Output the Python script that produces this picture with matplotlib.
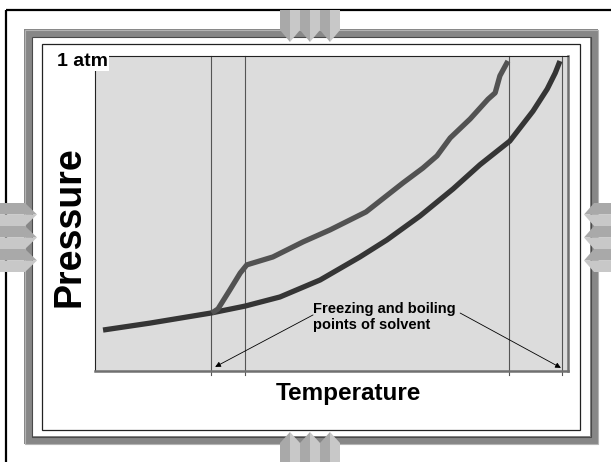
import matplotlib
matplotlib.use("Agg")
import matplotlib.pyplot as plt
from matplotlib.patches import Rectangle, Polygon

plt.rcParams['font.family'] = ['Liberation Sans', 'DejaVu Sans']

# solvent curve (lower) and solution curve (upper), arbitrary units 0-100
solvent_T = [1.7, 11.6, 24.5, 31.7, 39.1, 47.6, 56.0, 61.7, 68.7, 75.7, 81.4, 87.7, 92.6, 95.6, 97.3, 98.3]
solvent_P = [13.0, 15.2, 18.4, 20.6, 23.5, 28.9, 36.2, 41.6, 49.2, 57.8, 65.5, 73.0, 82.5, 89.5, 94.6, 98.4]
solution_T = [24.7, 26.0, 28.5, 30.7, 32.1, 37.6, 44.0, 49.7, 57.3, 65.1, 69.3, 72.3, 75.1, 79.3, 83.1, 84.6, 85.6, 87.3]
solution_P = [18.4, 19.7, 25.7, 31.1, 33.7, 36.2, 41.0, 44.8, 50.5, 59.7, 64.4, 68.3, 74.0, 80.0, 86.3, 88.3, 93.7, 98.4]

# freezing / boiling points (vertical guides)
guide_T = [24.5, 31.7, 87.5, 98.7]
arrow_tips = [(25.4, 1.3), (98.5, 1.0)]
arrow_tails = [(46.1, 17.8), (77.2, 18.4)]

W, H = 611, 462
fig = plt.figure(figsize=(W / 100, H / 100), dpi=100)
fig.patch.set_facecolor('white')

# decoration layer in pixel coords
bg = fig.add_axes([0, 0, 1, 1])
bg.set_xlim(0, W)
bg.set_ylim(H, 0)
bg.axis('off')

bg.add_patch(Rectangle((5.5, 9.5), 700, 500, fill=False, ec='black', lw=1.6))
bg.add_patch(Rectangle((24, 29), 574, 415, fc='#878787', ec='none'))
bg.add_patch(Rectangle((24.5, 29.5), 573, 414, fill=False, ec='#b4b4b4', lw=0.8))
bg.add_patch(Rectangle((32, 37), 558, 399, fc='white', ec='none'))
bg.add_patch(Rectangle((31.5, 36.5), 559, 400, fill=False, ec='#4a4a4a', lw=0.8))
bg.add_patch(Rectangle((41.5, 43.5), 538, 386, fill=False, ec='#222222', lw=0.9))

dark, light = '#a9a9a9', '#c8c8c8'
for i in range(3):
    x0 = 280 + 20 * i
    # top, pointing down
    bg.add_patch(Polygon([(x0, 10), (x0 + 10, 10), (x0 + 10, 42), (x0, 30)], fc=dark, ec='none', zorder=3))
    bg.add_patch(Polygon([(x0 + 10, 10), (x0 + 20, 10), (x0 + 20, 30), (x0 + 10, 42)], fc=light, ec='none', zorder=3))
    # bottom, pointing up
    bg.add_patch(Polygon([(x0, 462), (x0, 443), (x0 + 10, 432), (x0 + 10, 462)], fc=dark, ec='none', zorder=3))
    bg.add_patch(Polygon([(x0 + 10, 462), (x0 + 10, 432), (x0 + 20, 443), (x0 + 20, 462)], fc=light, ec='none', zorder=3))
    y0 = 203 + 23 * i
    # left, pointing right
    bg.add_patch(Polygon([(0, y0), (25, y0), (37, y0 + 11.5), (0, y0 + 11.5)], fc=dark, ec='none', zorder=3))
    bg.add_patch(Polygon([(0, y0 + 11.5), (37, y0 + 11.5), (25, y0 + 23), (0, y0 + 23)], fc=light, ec='none', zorder=3))
    # right, pointing left
    bg.add_patch(Polygon([(611, y0), (594, y0), (584, y0 + 11.5), (611, y0 + 11.5)], fc=dark, ec='none', zorder=3))
    bg.add_patch(Polygon([(611, y0 + 11.5), (584, y0 + 11.5), (594, y0 + 23), (611, y0 + 23)], fc=light, ec='none', zorder=3))

# plot area
ax = fig.add_axes([95 / W, 1 - 371 / H, 473 / W, 315 / H])
ax.set_facecolor('#dcdcdc')
ax.set_xlim(0, 100)
ax.set_ylim(0, 100)
ax.set_xticks([])
ax.set_yticks([])
for s in ['left', 'top']:
    ax.spines[s].set_color('#222222')
    ax.spines[s].set_linewidth(0.8)
for s in ['right', 'bottom']:
    ax.spines[s].set_color('#707070')
    ax.spines[s].set_linewidth(1.8)

for t in guide_T:
    ax.axvline(t, ymin=-0.013, ymax=1, color='#555555', lw=0.8, clip_on=False)

ax.plot(solvent_T, solvent_P, color='#353535', lw=3.8, solid_capstyle='butt', solid_joinstyle='round')
ax.plot(solution_T, solution_P, color='#525252', lw=3.8, solid_capstyle='butt', solid_joinstyle='round')

for tip, tail in zip(arrow_tips, arrow_tails):
    ax.annotate('', xy=tip, xytext=tail,
                arrowprops=dict(arrowstyle='-|>', color='black', lw=0.6,
                                mutation_scale=8, shrinkA=0, shrinkB=0))

ax.text(46.1, 21.9, 'Freezing and boiling\npoints of solvent', fontsize=10.5,
        fontweight='bold', ha='left', va='top', linespacing=1.15)

fig.text(57 / W, 1 - 66 / H, '1 atm', fontsize=14, fontweight='bold', ha='left', va='baseline',
         bbox=dict(fc='white', ec='none', pad=0.5))
fig.text(69 / W, 1 - 227 / H, 'Pressure', fontsize=27, fontweight='bold',
         rotation=90, ha='center', va='center')
fig.text(348 / W, 1 - 400 / H, 'Temperature', fontsize=17.5, fontweight='bold',
         ha='center', va='baseline')

fig.savefig('out.png', dpi=100)
